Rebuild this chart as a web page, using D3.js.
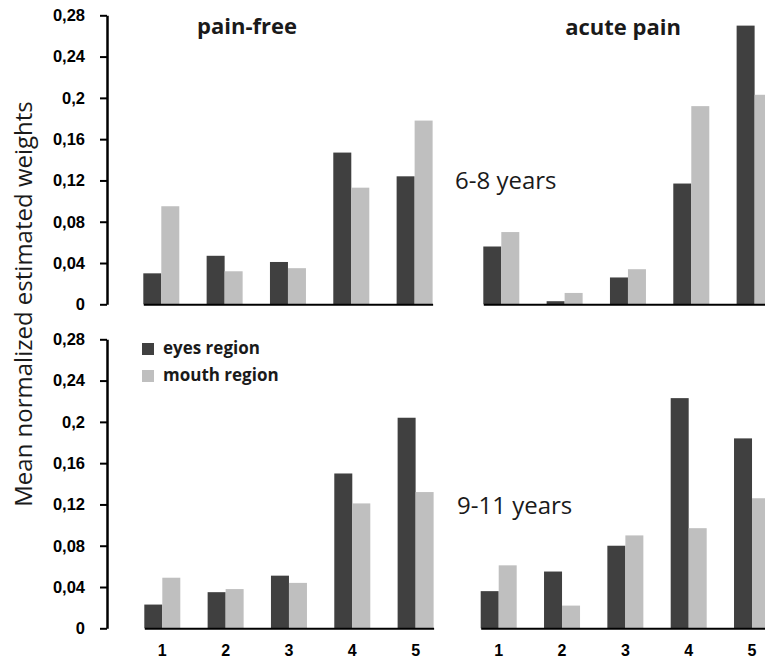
<!DOCTYPE html>
<html>
<head>
<meta charset="utf-8">
<script src="https://cdn.jsdelivr.net/npm/d3@7"></script>
<style>
  html, body { margin: 0; padding: 0; background: #fff; }
  svg { display: block; font-family: "Open Sans", "DejaVu Sans", sans-serif; }
</style>
</head>
<body>
<svg id="chart" width="765" height="661"></svg>
<script>
// Categories on the x axis and the two face regions
const categories = [1, 2, 3, 4, 5];
const regions = ["eyes region", "mouth region"];
const yTicks = [0, 0.04, 0.08, 0.12, 0.16, 0.2, 0.24, 0.28];
const yTickLabels = ["0", "0,04", "0,08", "0,12", "0,16", "0,2", "0,24", "0,28"];

// Mean normalized estimated weights, per age group and pain condition
const painFree68Eyes   = [0.030, 0.047, 0.041, 0.147, 0.124];
const painFree68Mouth  = [0.095, 0.032, 0.035, 0.113, 0.178];
const acutePain68Eyes  = [0.056, 0.003, 0.026, 0.117, 0.270];
const acutePain68Mouth = [0.070, 0.011, 0.034, 0.192, 0.203];
const painFree911Eyes   = [0.023, 0.035, 0.051, 0.150, 0.204];
const painFree911Mouth  = [0.049, 0.038, 0.044, 0.121, 0.132];
const acutePain911Eyes  = [0.036, 0.055, 0.080, 0.223, 0.184];
const acutePain911Mouth = [0.061, 0.022, 0.090, 0.097, 0.126];

const colors = { "eyes region": "#404040", "mouth region": "#bfbfbf" };

const svg = d3.select("#chart");

// Panel layout: left edge of first bar, y of zero line
const panels = [
  { x0: 143.3, y0: 304.3, eyes: painFree68Eyes,   mouth: painFree68Mouth,   yAxis: true,  xLabels: false },
  { x0: 483.3, y0: 304.3, eyes: acutePain68Eyes,  mouth: acutePain68Mouth,  yAxis: false, xLabels: false },
  { x0: 144.3, y0: 628.3, eyes: painFree911Eyes,  mouth: painFree911Mouth,  yAxis: true,  xLabels: true },
  { x0: 480.7, y0: 628.3, eyes: acutePain911Eyes, mouth: acutePain911Mouth, yAxis: false, xLabels: true }
];

const step = 63.33, bw = 36, plotH = 289;
const pad = 1 - bw / step;

panels.forEach(p => {
  const x = d3.scaleBand()
    .domain(categories)
    .range([p.x0, p.x0 + 4 * step + bw])
    .paddingInner(pad)
    .paddingOuter(0);
  const xs = d3.scaleBand().domain(regions).range([0, x.bandwidth()]);
  const y = d3.scaleLinear().domain([0, 0.28]).range([p.y0, p.y0 - plotH]);

  const g = svg.append("g");
  const rows = categories.map((c, i) => ({ c, vals: [
    { r: regions[0], v: p.eyes[i] },
    { r: regions[1], v: p.mouth[i] }
  ]}));

  g.selectAll("g.grp").data(rows).join("g")
    .attr("class", "grp")
    .attr("transform", d => `translate(${x(d.c)},0)`)
    .selectAll("rect").data(d => d.vals).join("rect")
      .attr("x", d => xs(d.r))
      .attr("width", xs.bandwidth())
      .attr("y", d => y(d.v))
      .attr("height", d => y(0) - y(d.v))
      .attr("fill", d => colors[d.r]);

  // x axis baseline (and category labels on the lower row)
  const xAxis = d3.axisBottom(x).tickSize(0).tickSizeOuter(0).tickPadding(13);
  const xg = g.append("g").attr("transform", `translate(0,${p.y0})`).call(xAxis);
  xg.select(".domain").attr("stroke", "#000").attr("stroke-width", 2);
  xg.selectAll(".tick text")
    .attr("font-size", 16).attr("font-weight", "bold").attr("fill", "#000")
    .attr("dy", "0.9em")
    .style("display", p.xLabels ? null : "none");

  if (p.yAxis) {
    const yAxis = d3.axisLeft(y)
      .tickValues(yTicks)
      .tickFormat((d, i) => yTickLabels[i])
      .tickSize(7).tickSizeOuter(0).tickPadding(15);
    const yg = g.append("g").attr("transform", `translate(107,0)`).call(yAxis);
    yg.select(".domain").attr("stroke", "#000").attr("stroke-width", 2.5);
    yg.selectAll(".tick line").attr("stroke", "#000").attr("stroke-width", 2);
    yg.selectAll(".tick text")
      .attr("font-size", 16.5).attr("font-weight", "bold").attr("fill", "#000");
  }
});

// Column titles
svg.append("text").attr("x", 247).attr("y", 34).attr("text-anchor", "middle")
  .attr("font-size", 22).attr("font-weight", "bold").attr("fill", "#1a1a1a").text("pain-free");
svg.append("text").attr("x", 623).attr("y", 35).attr("text-anchor", "middle")
  .attr("font-size", 22).attr("font-weight", "bold").attr("fill", "#1a1a1a").text("acute pain");

// Age group labels
svg.append("text").attr("x", 455).attr("y", 189)
  .attr("font-size", 24).attr("fill", "#1a1a1a").text("6-8 years");
svg.append("text").attr("x", 457).attr("y", 514)
  .attr("font-size", 24).attr("fill", "#1a1a1a").text("9-11 years");

// Y axis title
svg.append("text")
  .attr("transform", "translate(32,304) rotate(-90)")
  .attr("text-anchor", "middle")
  .attr("font-size", 24).attr("fill", "#1a1a1a")
  .text("Mean normalized estimated weights");

// Legend
const legend = svg.append("g").attr("transform", "translate(142,343)");
legend.selectAll("g").data(regions).join("g")
  .attr("transform", (d, i) => `translate(0,${i * 27})`)
  .call(gg => {
    gg.append("rect").attr("width", 12).attr("height", 12).attr("fill", d => colors[d]);
    gg.append("text").attr("x", 21).attr("y", 11)
      .attr("font-size", 17).attr("font-weight", "bold").attr("fill", "#1a1a1a")
      .text(d => d);
  });
</script>
</body>
</html>
